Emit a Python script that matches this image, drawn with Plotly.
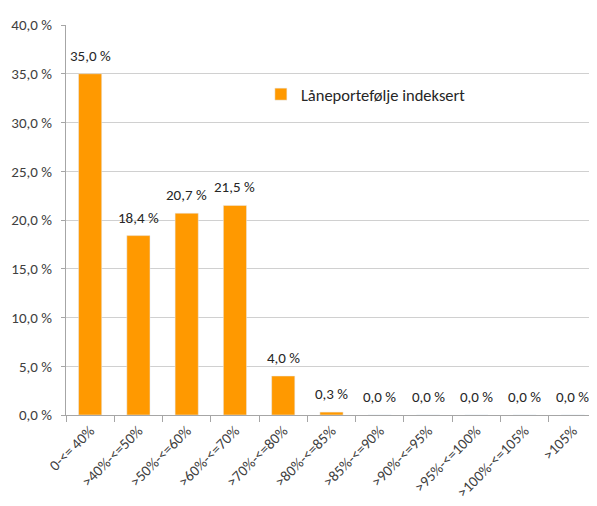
import plotly.graph_objects as go

categories = ["0-<= 40%", ">40%-<=50%", ">50%-<=60%", ">60%-<=70%", ">70%-<=80%",
              ">80%-<=85%", ">85%-<=90%", ">90%-<=95%", ">95%-<=100%",
              ">100%-<=105%", ">105%"]
values = [35.0, 18.4, 20.7, 21.5, 4.0, 0.3, 0.0, 0.0, 0.0, 0.0, 0.0]
series_name = "Låneportefølje indeksert"
y_ticks = [0, 5, 10, 15, 20, 25, 30, 35, 40]
y_tick_labels = ["0,0 %", "5,0 %", "10,0 %", "15,0 %", "20,0 %", "25,0 %",
                 "30,0 %", "35,0 %", "40,0 %"]

font_family = "Carlito, Liberation Sans Narrow, Liberation Sans, Arial"

fig = go.Figure()
fig.add_trace(go.Bar(
    x=categories, y=values, name=series_name,
    marker_color="#FF9900",
    cliponaxis=False,
    showlegend=True,
))
for c, v in zip(categories, values):
    fig.add_annotation(x=c, y=v, text=f"{v:.1f} %".replace(".", ","),
                       showarrow=False, yanchor="bottom", yshift=7,
                       font=dict(size=15, color="#262626"))

# page body has an 8px default margin, so the figure is 8px smaller
fig.update_layout(
    width=589, height=498,
    margin=dict(l=58, r=0, t=17, b=91, autoexpand=False),
    paper_bgcolor="white", plot_bgcolor="white",
    bargap=0.52,
    font=dict(family=font_family, size=15, color="#404040"),
    legend=dict(x=0.367, y=0.822, xanchor="left", yanchor="middle",
                font=dict(size=16.5, color="#262626"), bgcolor="rgba(0,0,0,0)",
                itemwidth=30),
    xaxis=dict(tickangle=-45, ticks="outside", tickson="boundaries", ticklen=6,
               tickcolor="#A6A6A6", showline=True, linecolor="#A6A6A6",
               range=[-0.5, 10.5], automargin=False,
               tickfont=dict(size=15, color="#404040")),
    yaxis=dict(range=[0, 40], tickvals=y_ticks, ticktext=y_tick_labels,
               showgrid=True, gridcolor="#D0D0D0", showline=True, linecolor="#A6A6A6",
               ticks="outside", ticklen=4, tickcolor="#A6A6A6", ticklabelstandoff=6,
               automargin=False,
               tickfont=dict(size=15, color="#404040"), zeroline=False),
)
fig.write_html("out.html")
